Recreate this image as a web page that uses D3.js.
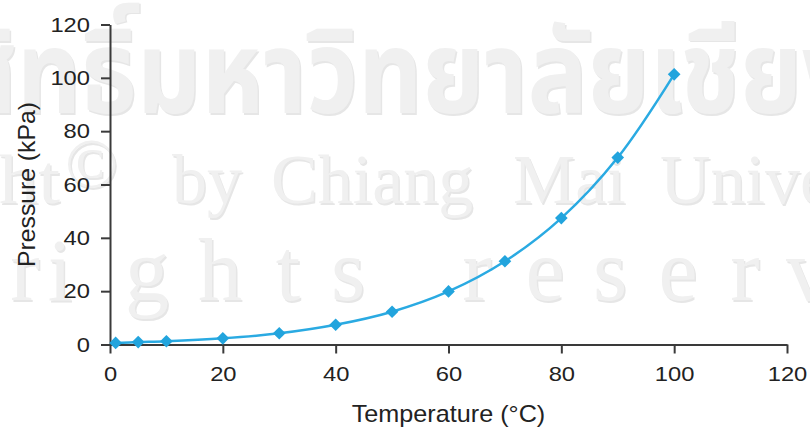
<!DOCTYPE html>
<html>
<head>
<meta charset="utf-8">
<script src="https://d3js.org/d3.v7.min.js"></script>
<style>
  body { margin: 0; background: #fff; }
  text { font-family: "Liberation Sans", Arial, sans-serif; }
</style>
</head>
<body>
<script>
// vapour pressure of water
var temps = [1, 5, 10, 20, 30, 40, 50, 60, 70, 80, 90, 100];
var pressures = [0.6, 0.9, 1.2, 2.3, 4.2, 7.4, 12.3, 19.9, 31.2, 47.4, 70.1, 101.3];
var xTicks = [0, 20, 40, 60, 80, 100, 120];
var yTicks = [0, 20, 40, 60, 80, 100, 120];

var w = 810, h = 429;
var margin = { top: 24.5, right: 23, bottom: 84.5, left: 110 };
var width = w - margin.left - margin.right;
var height = h - margin.top - margin.bottom;

var svg = d3.select("body").append("svg")
  .attr("width", w)
  .attr("height", h);

// the reference type is a little wider than Liberation Sans
function widen(sel, k) {
  sel.each(function() {
    var len = this.getComputedTextLength();
    d3.select(this).attr("textLength", len * k).attr("lengthAdjust", "spacingAndGlyphs");
  });
}

// faint watermark behind the chart (drawn twice for the soft edge)
function watermark(g) {
  g.append("text")
    .attr("transform", "translate(-162,113) scale(0.86,1)")
    .style("font-family", "'Noto Sans Thai', 'Noto Serif Thai', 'Loma', 'Garuda', sans-serif")
    .style("font-size", "116px").style("font-weight", "bold")
    .text("ลิขสิทธิ์มหาวิทยาลัยเชียงใหม่");
  var serif = "'Liberation Serif', 'DejaVu Serif', serif";
  g.append("text").attr("x", 60).attr("y", 203).attr("text-anchor", "end")
    .style("font-family", serif).style("font-size", "70px").text("Copyright")
    .call(widen, 1.12);
  g.append("text").attr("x", 65).attr("y", 187)
    .style("font-family", serif).style("font-size", "70px").text("©");
  [["by", 172], ["Chiang", 271], ["Mai", 513], ["University", 660]].forEach(function(d) {
    g.append("text").attr("x", d[1]).attr("y", 203)
      .style("font-family", serif).style("font-size", "70px").text(d[0]);
  });
  [["r", 25], ["i", 60], ["g", 147], ["h", 220], ["t", 288], ["s", 348],
   ["r", 477], ["e", 545], ["s", 610], ["e", 678], ["r", 745], ["v", 808]].forEach(function(d) {
    g.append("text").attr("x", d[1]).attr("y", 300).attr("text-anchor", "middle")
      .style("font-family", serif).style("font-size", "88px").text(d[0]);
  });
}
watermark(svg.append("g").attr("fill", "#e6e6e6").attr("transform", "translate(1.5,1.5)"));
watermark(svg.append("g").attr("fill", "#f0f0f0"));

var chart = svg.append("g")
  .attr("transform", "translate(" + margin.left + "," + margin.top + ")");

var x = d3.scaleLinear().domain([0, 120]).range([0, width]);
var y = d3.scaleLinear().domain([0, 120]).range([height, 0]);

var xAxis = chart.append("g")
  .attr("transform", "translate(0," + height + ")")
  .call(d3.axisBottom(x).tickValues(xTicks).tickSize(9).tickPadding(13).tickSizeOuter(0));
var yAxis = chart.append("g")
  .call(d3.axisLeft(y).tickValues(yTicks).tickSize(9).tickPadding(11).tickSizeOuter(0));

[xAxis, yAxis].forEach(function(a) {
  a.select(".domain").attr("stroke", "#3a3a3a").attr("stroke-width", 2);
  a.selectAll(".tick line").attr("stroke", "#3a3a3a").attr("stroke-width", 2);
  a.selectAll(".tick text")
    .attr("fill", "#222")
    .style("font-size", "21px")
    .style("font-family", "'Liberation Sans', Arial, sans-serif")
    .call(widen, 1.13);
});

var data = temps.map(function(t, i) { return { t: t, p: pressures[i] }; });

var line = d3.line()
  .x(function(d) { return x(d.t); })
  .y(function(d) { return y(d.p); })
  .curve(d3.curveCatmullRom.alpha(0.5));

chart.append("path")
  .datum(data)
  .attr("fill", "none")
  .attr("stroke", "#2aaae2")
  .attr("stroke-width", 2.5)
  .attr("d", line);

chart.selectAll(".pt")
  .data(data)
  .enter().append("path")
  .attr("class", "pt")
  .attr("d", d3.symbol(d3.symbolSquare, 80))
  .attr("transform", function(d) { return "translate(" + x(d.t) + "," + y(d.p) + ") rotate(45)"; })
  .attr("fill", "#22a4dd");

svg.append("text")
  .attr("x", 448.5)
  .attr("y", 422)
  .attr("text-anchor", "middle")
  .attr("fill", "#222")
  .style("font-size", "24px")
  .text("Temperature (°C)")
  .call(widen, 1.05);

svg.append("text")
  .attr("transform", "translate(35,184.5) rotate(-90)")
  .attr("text-anchor", "middle")
  .attr("fill", "#222")
  .style("font-size", "24px")
  .text("Pressure (kPa)")
  .call(widen, 1.03);
</script>
</body>
</html>
